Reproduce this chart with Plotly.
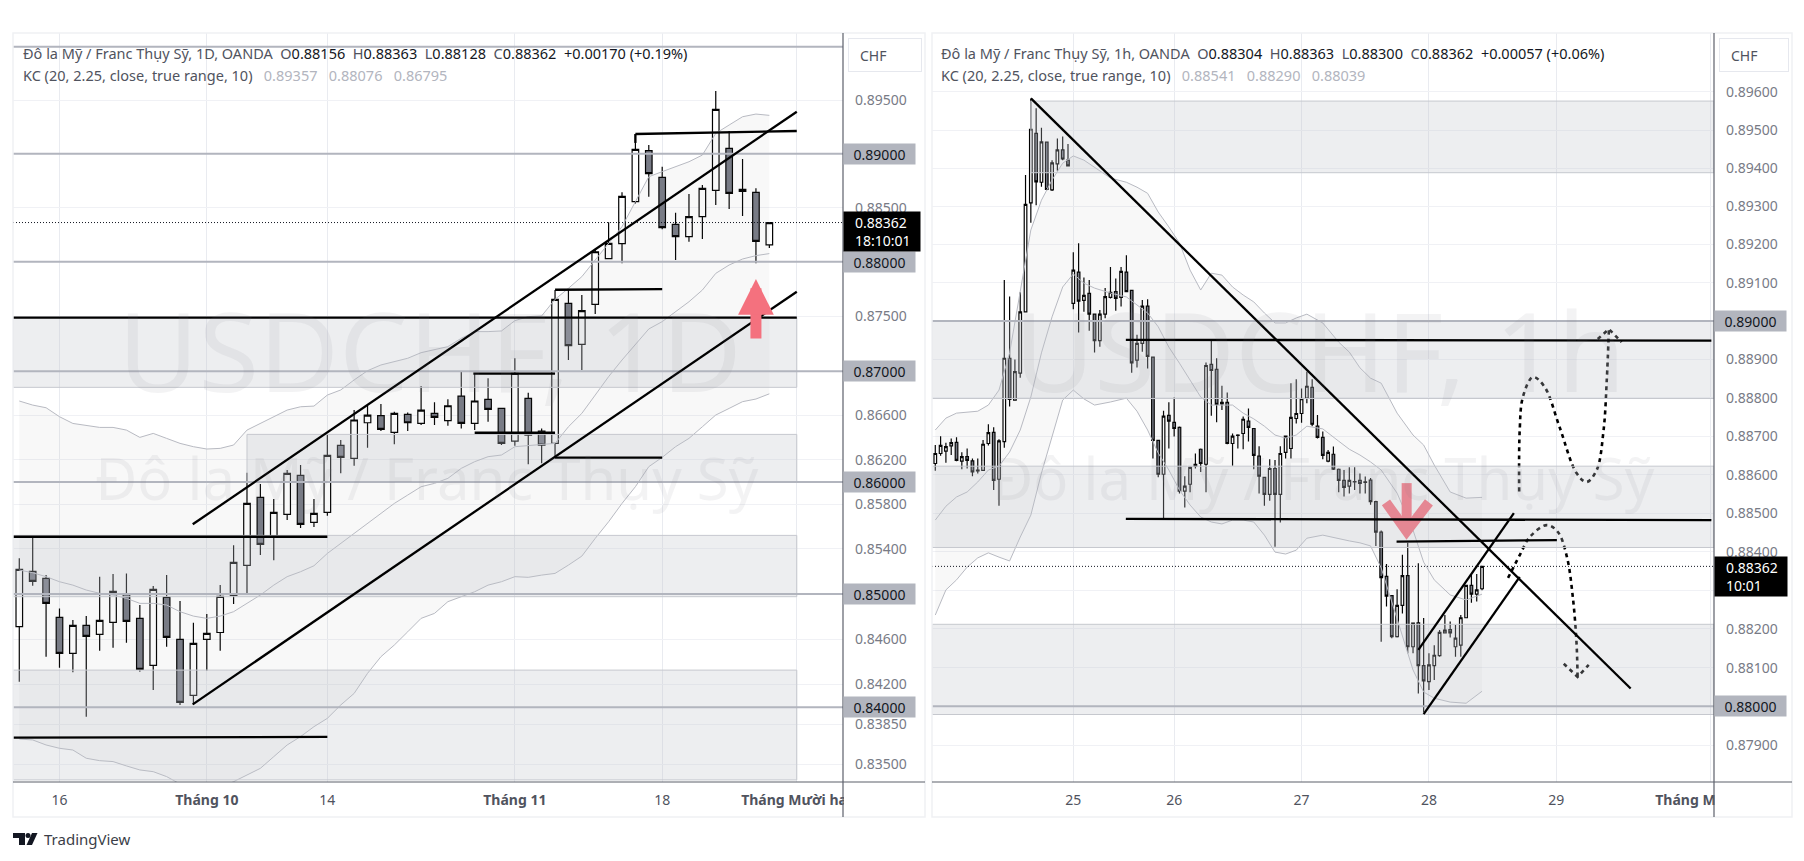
import numpy as np
import plotly.graph_objects as go

# the page keeps the browser's 8px body margin, so the figure is that much smaller
PAGE_MARGIN = 8
W = 1804 - 2 * PAGE_MARGIN
H = 861 - 2 * PAGE_MARGIN
font_family = 'Noto Sans'

# daily candles
open_1d = [.84709, .85200, .85138, .84791, .84473, .84721, .84641, .84747, .84993, .84783,
           .84367, .84969, .84597, .84104, .84597, .84658, .84987, .85253, .85861, .85515,
           .85709, .86059, .85638, .85727, .86329, .86212, .86533, .86597, .86446, .86609,
           .86527, .86618, .86552, .86775, .86527, .86745, .86663, .86368, .86754, .86458,
           .86347, .87619, .87245, .87610, .88029, .88167, .88555, .89028, .88780, .88345,
           .88232, .88416, .88660, .89050, .88669, .88641, .88156]
high_1d = [.85316, .85500, .85167, .84871, .84768, .84803, .85153, .85176, .85182, .84901,
           .85070, .85167, .84937, .84744, .84821, .85078, .85434, .86083, .85981, .85846,
           .86107, .86152, .85846, .86422, .86377, .86648, .86693, .86702, .86633, .86627,
           .86866, .86718, .86745, .86996, .86981, .86936, .86669, .87118, .86805, .86482,
           .87741, .87741, .87695, .88108, .88364, .88641, .89183, .89081, .88879, .88453,
           .88626, .88709, .89584, .89211, .88950, .88678, .88363]
low_1d = [.84224, .85073, .84444, .84347, .84306, .83917, .84497, .84523, .84567, .84312,
          .84151, .84532, .84019, .84019, .84321, .84497, .84910, .85005, .85345, .85300,
          .85658, .85587, .85596, .85697, .86077, .86146, .86308, .86458, .86338, .86458,
          .86512, .86512, .86506, .86482, .86467, .86543, .86332, .86326, .86158, .86167,
          .86212, .87102, .87011, .87522, .88029, .87986, .88539, .88601, .88299, .88017,
          .88186, .88210, .88524, .88487, .88422, .87986, .88128]
close_1d = [.85218, .85111, .84916, .84473, .84721, .84623, .84765, .85022, .84756, .84332,
            .85040, .84614, .84042, .84561, .84650, .84978, .85280, .85807, .85441, .85727,
            .86077, .85620, .85718, .86239, .86221, .86558, .86603, .86473, .86618, .86533,
            .86648, .86582, .86687, .86527, .86730, .86654, .86347, .86981, .86422, .86332,
            .87656, .87233, .87552, .88093, .88170, .88604, .89040, .88814, .88315, .88232,
            .88416, .88678, .89413, .88632, .88650, .88189, .88362]

kc_upper_1d = [.86730, .86693, .86669, .86588, .86527, .86506, .86491, .86491, .86467, .86401,
               .86437, .86392, .86347, .86317, .86296, .86302, .86332, .86467, .86527, .86588,
               .86648, .86678, .86684, .86784, .86830, .86921, .87005, .87057, .87087, .87118,
               .87169, .87200, .87224, .87300, .87361, .87361, .87367, .87461, .87498, .87504,
               .87656, .87757, .87864, .88017, .88170, .88324, .88555, .88786, .88833, .88879,
               .88925, .88987, .89189, .89267, .89344, .89369, .89357]
kc_basis_1d = [.85212, .85188, .85153, .85108, .85078, .85034, .85005, .84990, .84960, .84916,
               .84916, .84901, .84842, .84803, .84783, .84803, .84842, .84916, .84990, .85078,
               .85153, .85197, .85250, .85360, .85450, .85539, .85623, .85718, .85807, .85882,
               .85957, .85987, .86032, .86122, .86182, .86227, .86242, .86317, .86326, .86332,
               .86347, .86497, .86618, .86784, .86951, .87102, .87239, .87385, .87452, .87543,
               .87634, .87741, .87894, .87971, .88026, .88057, .88076]
kc_lower_1d = [.83721, .83713, .83669, .83640, .83625, .83553, .83532, .83524, .83486, .83451,
               .83436, .83393, .83329, .83291, .83262, .83291, .83349, .83407, .83465, .83567,
               .83669, .83742, .83829, .83902, .84019, .84121, .84297, .84444, .84547, .84664,
               .84783, .84827, .84931, .84975, .85019, .85078, .85108, .85153, .85147, .85167,
               .85182, .85256, .85336, .85494, .85643, .85807, .85957, .86137, .86221, .86317,
               .86392, .86497, .86603, .86663, .86724, .86748, .86795]

# hourly candles
open_1h = [.88629, .88655, .88661, .88675, .88684, .88635, .88647, .88636, .88610, .88611,
           .88681, .88710, .88588, .88686, .88903, .88794, .88864, .89024, .89309, .89491,
           .89363, .89468, .89343, .89411, .89448, .89421, .89046, .89128, .89054, .89072,
           .89018, .88949, .89018, .89062, .89077, .89062, .89128, .89080, .88898, .88942,
           .89039, .88906, .88689, .88601, .88754, .88736, .88723, .88557, .88575, .88622,
           .88666, .88627, .88887, .88874, .88784, .88788, .88681, .88702, .88707, .88739,
           .88720, .88648, .88593, .88549, .88616, .88549, .88658, .88668, .88746, .88759,
           .88799, .88827, .88726, .88697, .88635, .88653, .88614, .88585, .88570, .88581,
           .88585, .88581, .88586, .88530, .88451, .88336, .88286, .88180, .88261, .88338,
           .88154, .88216, .88105, .88064, .88105, .88131, .88190, .88198, .88154, .88158,
           .88229, .88313, .88290, .88304]
high_1h = [.88677, .88700, .88683, .88694, .88697, .88658, .88668, .88642, .88642, .88690,
           .88731, .88723, .88692, .89107, .89064, .88900, .89075, .89382, .89583, .89557,
           .89506, .89469, .89421, .89478, .89483, .89463, .89180, .89203, .89114, .89107,
           .89020, .89029, .89086, .89141, .89111, .89141, .89172, .89081, .88964, .89055,
           .89057, .88907, .88690, .88766, .88788, .88801, .88725, .88596, .88621, .88655,
           .88668, .88892, .88951, .88903, .88831, .88814, .88707, .88705, .88751, .88772,
           .88721, .88674, .88594, .88640, .88638, .88674, .88702, .88838, .88848, .88824,
           .88868, .88848, .88755, .88712, .88664, .88673, .88616, .88612, .88619, .88619,
           .88603, .88595, .88591, .88532, .88455, .88368, .88288, .88303, .88392, .88423,
           .88216, .88370, .88228, .88137, .88158, .88197, .88236, .88219, .88210, .88236,
           .88314, .88342, .88342, .88363]
low_1h = [.88610, .88649, .88631, .88651, .88635, .88614, .88616, .88596, .88603, .88610,
          .88676, .88560, .88519, .88670, .88777, .88792, .88852, .89022, .89257, .89303,
          .89351, .89342, .89340, .89393, .89421, .89405, .89031, .88970, .89024, .88975,
          .88918, .88933, .89007, .89059, .89027, .89038, .89076, .88865, .88879, .88920,
          .88876, .88642, .88593, .88487, .88668, .88699, .88551, .88515, .88554, .88616,
          .88607, .88554, .88753, .88736, .88768, .88679, .88623, .88668, .88666, .88686,
          .88614, .88551, .88519, .88532, .88413, .88476, .88642, .88642, .88733, .88735,
          .88786, .88726, .88694, .88640, .88632, .88612, .88554, .88543, .88551, .88560,
          .88551, .88551, .88522, .88415, .88167, .88258, .88176, .88178, .88240, .88137,
          .88137, .88033, .87985, .88042, .88068, .88128, .88189, .88178, .88128, .88128,
          .88228, .88268, .88271, .88300]
close_1h = [.88655, .88676, .88673, .88683, .88637, .88647, .88637, .88607, .88612, .88679,
            .88709, .88585, .88688, .88903, .88796, .88868, .89024, .89305, .89502, .89364,
            .89469, .89344, .89414, .89448, .89424, .89406, .89133, .89052, .89067, .89018,
            .88949, .89018, .89064, .89075, .89059, .89130, .89077, .88891, .88942, .89039,
            .88908, .88689, .88601, .88752, .88739, .88720, .88557, .88570, .88619, .88627,
            .88629, .88884, .88871, .88783, .88788, .88681, .88700, .88703, .88744, .88723,
            .88650, .88596, .88549, .88616, .88549, .88655, .88700, .88749, .88759, .88798,
            .88830, .88731, .88697, .88650, .88658, .88614, .88585, .88567, .88585, .88582,
            .88577, .88580, .88530, .88451, .88333, .88285, .88180, .88261, .88338, .88154,
            .88215, .88105, .88066, .88107, .88132, .88191, .88197, .88190, .88176, .88229,
            .88313, .88290, .88301, .88362]

kc_idx_1h = [0, 2, 4, 6, 8, 10, 12, 14, 16, 18, 20, 22, 24, 26, 28, 30, 33, 36, 38, 40, 42, 44, 46,
             48, 50, 52, 54, 56, 58, 60, 62, 64, 66, 68, 70, 73, 76, 78, 80, 82, 84, 87, 90, 92,
             94, 97, 100, 103]
kc_upper_1h = [.88716, .88747, .88760, .88763, .88765, .88781, .88820, .88917, .89081, .89238,
               .89316, .89369, .89413, .89432, .89421, .89403, .89374, .89363, .89350, .89334,
               .89285, .89246, .89204, .89133, .89081, .89125, .89120, .89089, .89068, .89050,
               .89021, .88995, .88995, .89008, .89018, .88995, .88945, .88919, .88878, .88851,
               .88838, .88760, .88703, .88677, .88625, .88555, .88539, .88541]
kc_basis_1h = [.88482, .88518, .88542, .88555, .88581, .88612, .88622, .88659, .88716, .88802,
               .88917, .89011, .89089, .89123, .89099, .89086, .89073, .89063, .89042, .89021,
               .88985, .88932, .88890, .88846, .88802, .88781, .88781, .88781, .88760, .88745,
               .88726, .88703, .88695, .88703, .88726, .88719, .88687, .88666, .88651, .88633,
               .88612, .88552, .88456, .88373, .88327, .88288, .88275, .88290]
kc_lower_1h = [.88236, .88301, .88327, .88360, .88384, .88397, .88386, .88376, .88438, .88495,
               .88604, .88698, .88794, .88820, .88797, .88781, .88789, .88799, .88765, .88716,
               .88656, .88612, .88560, .88521, .88490, .88477, .88472, .88482, .88482, .88477,
               .88443, .88399, .88394, .88404, .88435, .88443, .88433, .88428, .88423, .88415,
               .88358, .88228, .88094, .88037, .88021, .88011, .88008, .88039]

# price axis labels
ticks_1d = [.895, .89, .885, .88, .875, .87, .866, .862, .86, .858, .854, .85, .846, .842, .84,
            .8385, .835]
ticks_1h = [.896, .895, .894, .893, .892, .891, .89, .889, .888, .887, .886, .885, .884, .883,
            .882, .881, .88, .879]
round_1d = [.89, .88, .87, .86, .85, .84]
round_1h = [.89, .88]
gray_lines_1d = [.90, .89, .88, .87, .86, .85, .84]

# time axis labels
time_idx_1d = [3, 14, 23, 37, 48, 58]
time_text_1d = ['16', '<b>Tháng 10</b>', '14', '<b>Tháng 11</b>', '18', '<b>Tháng Mười hai</b>']
time_idx_1h = [26, 45, 69, 93, 117, 146]
time_text_1h = ['25', '26', '27', '28', '29', '<b>Tháng Mười hai</b>']

# zones: first index, last index, top price, bottom price
zones_1d = [(-0.47, 58.05, .87489, .86854), (17, 58.05, .86428, .86000),
            (-0.47, 58.05, .85521, .84975), (-0.47, 58.05, .84326, .83364)]
zones_1h = [(18, 146.7, .89576, .89388), (-0.62, 146.7, .89000, .88798),
            (-0.62, 146.7, .88622, .88411), (-0.62, 146.7, .88212, .87979)]

# drawn lines
lines_1d = [
    ([12.95, 58.05], [.85620, .89391]),
    ([12.95, 58.05], [.84025, .87726]),
    ([-0.47, 58.05], [.87489, .87489]),
    ([46, 46, 58.05], [.89100, .89183, .89211]),
    ([40, 48], [.87744, .87750]),
    ([33.9, 40], [.86978, .86978]),
    ([34, 40], [.86443, .86443]),
    ([40, 48], [.86218, .86218]),
    ([-0.47, 23], [.85509, .85509]),
    ([-0.47, 23], [.83733, .83739]),
]
lines_1h = [
    ([18.02, 131], [.89583, .88046]),
    ([35.9, 146.2], [.88951, .88949]),
    ([35.9, 146.2], [.88485, .88482]),
    ([86.9, 117.1], [.88426, .88430]),
    ([92, 110.1], [.87980, .88335]),
    ([91, 109], [.88146, .88500]),
]
path_up_x = [110, 110.1, 110.7, 112.6, 114.8, 117.6, 120.8, 122.7, 124.6, 125.9, 126.5, 126.9]
path_up_y = [.88556, .88716, .88802, .88854, .88828, .88724, .88604, .88581, .88612, .88716,
             .88846, .88977]
head_up_x = [124.8, 126.9, 129.3]
head_up_y = [.88953, .88979, .88945]
path_down_x = [107.9, 110.1, 112, 115.2, 117.3, 119, 120.1, 120.8, 121]
path_down_y = [.88332, .88391, .88438, .88469, .88451, .88386, .88283, .88164, .88076]
head_down_x = [118.4, 121, 123.1]
head_down_y = [.88110, .88076, .88107]

last_price = .88362
arrow_color = '#f4717e'
text_dark = '#50535e'
grid_color = '#f0f1f5'
gray_line = '#b2b5be'


def px(x):
    return (x - PAGE_MARGIN) / W


def py(y):
    return 1 - (y - PAGE_MARGIN) / H


def candle(x, o, h, l, c, xa, ya):
    return go.Candlestick(
        x=x, open=o, high=h, low=l, close=c,
        xaxis=xa, yaxis=ya, whiskerwidth=0, showlegend=False, hoverinfo='skip',
        increasing=dict(line=dict(color='#000000', width=1.2), fillcolor='#ffffff'),
        decreasing=dict(line=dict(color='#000000', width=1.2), fillcolor='#787b86'),
    )


def band(x, y, xa, ya, fill=None):
    return go.Scatter(
        x=x, y=y, xaxis=xa, yaxis=ya, mode='lines', showlegend=False, hoverinfo='skip',
        line=dict(color='#b8bac2', width=1),
        fill=fill, fillcolor='rgba(120,123,134,0.055)',
    )


def line(x, y, xa, ya, width=2.3, color='#000000', dash=None, shape='linear'):
    return go.Scatter(
        x=x, y=y, xaxis=xa, yaxis=ya, mode='lines', showlegend=False, hoverinfo='skip',
        line=dict(color=color, width=width, dash=dash, shape=shape),
    )


idx_1d = list(range(len(open_1d)))
idx_1h = list(range(len(open_1h)))

data = [
    band(idx_1d, kc_lower_1d, 'x', 'y'),
    band(idx_1d, kc_upper_1d, 'x', 'y', fill='tonexty'),
    band(idx_1d, kc_basis_1d, 'x', 'y'),
    candle(idx_1d, open_1d, high_1d, low_1d, close_1d, 'x', 'y'),
    band(kc_idx_1h, kc_lower_1h, 'x2', 'y2'),
    band(kc_idx_1h, kc_upper_1h, 'x2', 'y2', fill='tonexty'),
    band(kc_idx_1h, kc_basis_1h, 'x2', 'y2'),
    candle(idx_1h, open_1h, high_1h, low_1h, close_1h, 'x2', 'y2'),
    line([-0.47, 61.5], [last_price, last_price], 'x', 'y', 1, '#131722', '1px,2px'),
    line([-0.62, 146.7], [last_price, last_price], 'x2', 'y2', 1, '#131722', '1px,2px'),
]
# red arrow of the hourly chart goes under the drawn lines
data.append(line([88.8, 88.8], [.88578, .88453], 'x2', 'y2', 10, arrow_color))
data.append(line([84.9, 88.8, 93], [.88528, .88453, .88528], 'x2', 'y2', 10, arrow_color))
dots = '4px,4px'
data.append(line(path_up_x, path_up_y, 'x2', 'y2', 2.6, dash=dots, shape='spline'))
data.append(line(head_up_x, head_up_y, 'x2', 'y2', 2.6, dash=dots))
data.append(line(path_down_x, path_down_y, 'x2', 'y2', 2.6, dash=dots, shape='spline'))
data.append(line(head_down_x, head_down_y, 'x2', 'y2', 2.6, dash=dots))

shapes = []
for x0, x1, top, bottom in zones_1d:
    shapes.append(dict(type='rect', xref='x', yref='y', x0=x0, x1=x1, y0=bottom, y1=top,
                       fillcolor='rgba(191,193,200,0.28)', line=dict(color='#c6c8ce', width=1)))
for x0, x1, top, bottom in zones_1h:
    shapes.append(dict(type='rect', xref='x2', yref='y2', x0=x0, x1=x1, y0=bottom, y1=top,
                       fillcolor='rgba(191,193,200,0.28)', line=dict(color='#c6c8ce', width=1)))
for v in gray_lines_1d:
    shapes.append(dict(type='line', xref='x', yref='y', x0=-0.47, x1=61.5, y0=v, y1=v,
                       line=dict(color=gray_line, width=2)))
for v in round_1h:
    shapes.append(dict(type='line', xref='x2', yref='y2', x0=-0.62, x1=146.7, y0=v, y1=v,
                       line=dict(color=gray_line, width=2)))

# drawn lines are shapes so they stay black on top of the zones
for lines, xr, yr in [(lines_1d, 'x', 'y'), (lines_1h, 'x2', 'y2')]:
    for lx, ly in lines:
        for i in range(len(lx) - 1):
            shapes.append(dict(type='line', xref=xr, yref=yr, x0=lx[i], x1=lx[i + 1],
                               y0=ly[i], y1=ly[i + 1], line=dict(color='#000000', width=2.3)))

# panels, axis lines, and the mask that cuts the long month label at the price axis
for left, axis, right in [(13, 843, 925), (932, 1714, 1792)]:
    shapes.append(dict(type='rect', xref='paper', yref='paper', x0=px(axis + 1), x1=px(right - 1),
                       y0=py(816), y1=py(783), fillcolor='#ffffff', line=dict(width=0)))
    shapes.append(dict(type='rect', xref='paper', yref='paper', x0=px(left), x1=px(right),
                       y0=py(817), y1=py(33), line=dict(color='#f0f1f4', width=1.5)))
    shapes.append(dict(type='line', xref='paper', yref='paper', x0=px(axis), x1=px(axis),
                       y0=py(817), y1=py(33), line=dict(color='#5d606b', width=1.2)))
    shapes.append(dict(type='line', xref='paper', yref='paper', x0=px(left), x1=px(right),
                       y0=py(782), y1=py(782), line=dict(color='#5d606b', width=1.2)))

# TradingView mark
black = dict(color='#131722', width=0)
shapes.append(dict(type='path', xref='paper', yref='paper', fillcolor='#131722', line=black,
                   path='M%f,%f L%f,%f L%f,%f L%f,%f L%f,%f L%f,%f Z' % (
                       px(13), py(833), px(25), py(833), px(25), py(845), px(19), py(845),
                       px(19), py(838), px(13), py(838))))
shapes.append(dict(type='circle', xref='paper', yref='paper', fillcolor='#131722', line=black,
                   x0=px(25.5), x1=px(30.5), y0=py(838), y1=py(833)))
shapes.append(dict(type='path', xref='paper', yref='paper', fillcolor='#131722', line=black,
                   path='M%f,%f L%f,%f L%f,%f L%f,%f Z' % (
                       px(32), py(833), px(37.5), py(833), px(32), py(845), px(26.5), py(845))))

annotations = []


def note(text, x, y, size=14, color=text_dark, xanchor='left', **kw):
    annotations.append(dict(text=text, x=px(x), y=py(y), xref='paper', yref='paper',
                            xanchor=xanchor, yanchor='middle', showarrow=False,
                            font=dict(size=size, color=color, family=font_family), **kw))


def round_label(v, x, ya):
    annotations.append(dict(text='%.5f' % v, x=px(x), y=np.log10(v), xref='paper', yref=ya,
                            xanchor='left', yanchor='middle', showarrow=False, width=71, height=20,
                            bgcolor=gray_line, borderpad=0,
                            font=dict(size=14, color='#131722', family=font_family)))


def val(text):
    return '<span style="color:#131722">%s</span>' % text


def faint(text):
    return '<span style="color:#b2b5be">%s</span>' % text


gap = '\u00a0\u00a0'
pad = '\u00a0\u00a0\u00a0'
note('Đô la Mỹ / Franc Thụy Sỹ, 1D, OANDA' + gap + 'O' + val('0.88156') + gap + 'H' + val('0.88363')
     + gap + 'L' + val('0.88128') + gap + 'C' + val('0.88362') + gap + val('+0.00170 (+0.19%)'),
     21, 53, 14.5)
note('KC (20, 2.25, close, true range, 10)' + pad + faint('0.89357') + pad + faint('0.88076') + pad
     + faint('0.86795'), 21, 75, 14.5)
note('Đô la Mỹ / Franc Thụy Sỹ, 1h, OANDA' + gap + 'O' + val('0.88304') + gap + 'H' + val('0.88363')
     + gap + 'L' + val('0.88300') + gap + 'C' + val('0.88362') + gap + val('+0.00057 (+0.06%)'),
     939, 53, 14.5)
note('KC (20, 2.25, close, true range, 10)' + pad + faint('0.88541') + pad + faint('0.88290') + pad
     + faint('0.88039'), 939, 75, 14.5)

wm = 'rgba(120,123,134,0.09)'
note('USDCHF, 1D', 430, 349, 110, wm, 'center')
note('Đô la Mỹ / Franc Thụy Sỹ', 427, 477, 58, wm, 'center')
note('USDCHF, 1h', 1320, 349, 110, wm, 'center')
note('Đô la Mỹ / Franc Thụy Sỹ', 1323, 477, 58, wm, 'center')

for v in round_1d:
    round_label(v, 843, 'y')
for v in round_1h:
    round_label(v, 1714, 'y2')

note(pad + 'CHF', 848, 55, 14, text_dark, width=72, height=32, align='left', bgcolor='#ffffff',
     bordercolor='#e6e8ee', borderwidth=1, borderpad=0)
note(pad + 'CHF', 1719, 55, 14, text_dark, width=68, height=32, align='left', bgcolor='#ffffff',
     bordercolor='#e6e8ee', borderwidth=1, borderpad=0)
note(pad + '0.88362<br>' + pad + '18:10:01', 843, 231.5, 14, '#ffffff', width=76, height=39,
     align='left', bgcolor='#000000', borderpad=0)
note(pad + '0.88362<br>' + pad + '10:01', 1714, 576.5, 14, '#ffffff', width=72, height=39,
     align='left', bgcolor='#000000', borderpad=0)
note('TradingView', 42, 839, 15, '#3b3e48')

# up arrow of the daily chart
annotations.append(dict(x=55, y=np.log10(.87842), xref='x', yref='y', ax=0, ay=61, text='',
                        showarrow=True, arrowhead=2, arrowsize=0.65, arrowwidth=11,
                        arrowcolor=arrow_color))


def xaxis(left, right, x_range, tickvals, ticktext, anchor):
    return dict(domain=[px(left), px(right)], range=x_range, anchor=anchor, type='linear',
                tickmode='array', tickvals=tickvals, ticktext=ticktext, ticks='',
                automargin=False, ticklabelstandoff=8, ticklabeloverflow='allow',
                showgrid=True, gridcolor='#e9ebf0', gridwidth=1, zeroline=False, showline=False,
                rangeslider=dict(visible=False),
                tickfont=dict(size=14, color=text_dark, family=font_family))


def yaxis(y_range, tickvals, anchor):
    return dict(domain=[py(782), py(33)], range=y_range, type='log', side='right', anchor=anchor,
                tickmode='array', tickvals=tickvals, ticktext=['%.5f' % v for v in tickvals],
                automargin=False, ticks='', ticklabelstandoff=11,
                showgrid=True, gridcolor=grid_color, gridwidth=1, zeroline=False, showline=False,
                tickfont=dict(size=14, color='#787b86', family=font_family))


layout = dict(
    width=W, height=H,
    margin=dict(l=0, r=0, t=0, b=0),
    paper_bgcolor='#ffffff', plot_bgcolor='#ffffff',
    font=dict(family=font_family),
    showlegend=False,
    boxgap=0.3,
    shapes=shapes,
    annotations=annotations,
    xaxis=xaxis(13, 843, [-0.47, 61.5], time_idx_1d, time_text_1d, 'y'),
    yaxis=yaxis([np.log10(.83346), np.log10(.90129)], ticks_1d, 'x'),
    xaxis2=xaxis(932, 1714, [-0.62, 146.7], time_idx_1h, time_text_1h, 'y2'),
    yaxis2=yaxis([np.log10(.87805), np.log10(.89755)], ticks_1h, 'x2'),
)

fig = go.Figure(data=data, layout=layout)
fig.write_html("out.html")
